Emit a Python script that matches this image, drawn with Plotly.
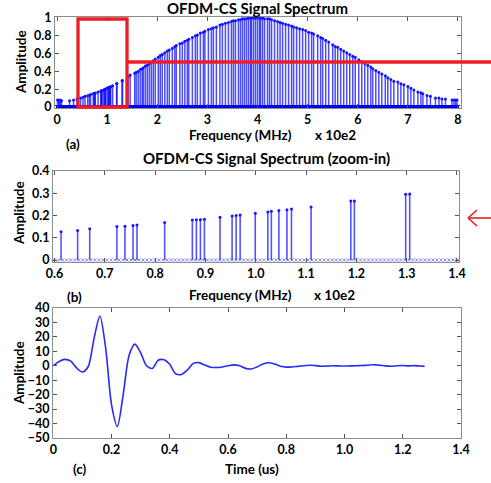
import numpy as np
import plotly.graph_objects as go

# ---------------- data ----------------
# OFDM-CS spectrum: active subcarrier frequencies (x 10e2 MHz) and amplitudes
spec_freq = [0.01, 0.03, 0.05, 0.07, 0.09, 0.25, 0.33, 0.40, 0.47, 0.52, 0.56,
             0.613, 0.646, 0.670, 0.724, 0.740, 0.756, 0.764, 0.819, 0.874, 0.882,
             0.890, 0.898, 0.929, 0.953, 0.961, 0.969, 0.999, 1.024, 1.031, 1.046,
             1.062, 1.071, 1.110, 1.189, 1.196, 1.298, 1.306,
             1.42, 1.46, 1.55, 1.58, 1.62, 1.66, 1.70, 1.72, 1.76, 1.80, 1.84, 1.88,
             1.92, 1.96, 2.02, 2.06, 2.10, 2.15, 2.20, 2.24, 2.30, 2.35, 2.38, 2.45,
             2.50, 2.55, 2.60, 2.63, 2.70, 2.76, 2.80, 2.86, 2.92, 2.95, 3.02, 3.08,
             3.12, 3.18, 3.25, 3.30, 3.36, 3.42, 3.48, 3.52, 3.56, 3.62, 3.66, 3.70,
             3.74, 3.78, 3.82, 3.86, 3.88, 3.92, 3.96, 4.00, 4.04, 4.06, 4.10, 4.14,
             4.20, 4.24, 4.28, 4.34, 4.40, 4.45, 4.50, 4.56, 4.62, 4.68, 4.72, 4.78,
             4.84, 4.90, 4.96, 5.02, 5.08, 5.12, 5.20, 5.26, 5.30, 5.36, 5.42, 5.50,
             5.55, 5.60, 5.66, 5.72, 5.78, 5.84, 5.90, 5.95, 6.02, 6.08, 6.14, 6.20,
             6.26, 6.30, 6.36, 6.42, 6.48, 6.55, 6.60, 6.66, 6.72, 6.80, 6.86, 6.92,
             7.00, 7.06, 7.12, 7.20, 7.26, 7.30, 7.38, 7.45, 7.55, 7.62, 7.68, 7.75,
             7.88, 7.92, 7.95, 7.98]
spec_amp = [0.08, 0.08, 0.07, 0.08, 0.07, 0.07, 0.08, 0.09, 0.10, 0.11, 0.12,
            0.127, 0.133, 0.14, 0.15, 0.152, 0.155, 0.157, 0.168, 0.18, 0.181,
            0.181, 0.183, 0.192, 0.198, 0.20, 0.202, 0.21, 0.216, 0.219, 0.222,
            0.226, 0.229, 0.238, 0.265, 0.265, 0.295, 0.297,
            0.34, 0.36, 0.38, 0.39, 0.40, 0.42, 0.43, 0.44, 0.46, 0.47, 0.49, 0.50,
            0.52, 0.54, 0.56, 0.58, 0.59, 0.61, 0.63, 0.64, 0.66, 0.68, 0.69, 0.71,
            0.72, 0.74, 0.75, 0.76, 0.78, 0.80, 0.81, 0.83, 0.84, 0.85, 0.87, 0.88,
            0.89, 0.90, 0.92, 0.93, 0.94, 0.95, 0.96, 0.97, 0.97, 0.98, 0.98, 0.99,
            0.99, 0.99, 1.00, 1.00, 1.00, 1.00, 1.00, 1.00, 1.00, 1.00, 1.00, 0.99,
            0.99, 0.99, 0.98, 0.97, 0.96, 0.95, 0.94, 0.93, 0.92, 0.91, 0.90, 0.89,
            0.88, 0.87, 0.86, 0.84, 0.83, 0.82, 0.80, 0.78, 0.77, 0.75, 0.73, 0.70,
            0.68, 0.67, 0.65, 0.63, 0.61, 0.59, 0.57, 0.56, 0.53, 0.51, 0.49, 0.47,
            0.45, 0.43, 0.41, 0.39, 0.37, 0.35, 0.33, 0.31, 0.29, 0.28, 0.26, 0.25,
            0.23, 0.21, 0.19, 0.17, 0.16, 0.15, 0.13, 0.12, 0.10, 0.10, 0.09, 0.09,
            0.08, 0.08, 0.08, 0.08]

# inactive subcarrier grid (zero amplitude)
zero_freq = np.round(np.arange(0, 8.0001, 0.008), 3)
zero_amp = np.zeros_like(zero_freq)

# time-domain signal
time_us = np.round(np.arange(0, 1.27, 0.02), 2).tolist() + [1.275]
signal = [0, 3.0, 4.4, 3.2, -1.5, -4.3, -0.5, 19, 34.5, 12, -27, -42, -20, 7, 15, 9,
          0, -1.8, 3.8, 4.2, 1, -5.5, -6.0, -3, 1.5, 2.2, 0.5, -1, -1.2, -0.8, 0, 0.6,
          0, -1.8, -2.2, -0.8, 1.2, 2.1, 1.2, -0.3, -0.9, -0.8, -0.4, 0, 0.4, 0.1,
          -0.3, -0.2, 0, -0.1, -0.2, -0.1, 0, 0.2, 0.4, 0.7, 0.4, -0.1, -0.3, 0,
          0.2, -0.1, 0.1, -0.2, -0.4]

# tick labels
a_xticks = [0, 1, 2, 3, 4, 5, 6, 7, 8]
a_yticks = [0, 0.2, 0.4, 0.6, 0.8, 1]
a_yticktext = ["0", "0.2", "0.4", "0.6", "0.8", "1"]
b_xticks = [0.6, 0.7, 0.8, 0.9, 1.0, 1.1, 1.2, 1.3, 1.4]
b_xticktext = ["0.6", "0.7", "0.8", "0.9", "1.0", "1.1", "1.2", "1.3", "1.4"]
b_yticks = [0, 0.1, 0.2, 0.3, 0.4]
b_yticktext = ["0", "0.1", "0.2", "0.3", "0.4"]
c_xticks = [0, 0.2, 0.4, 0.6, 0.8, 1.0, 1.2, 1.4]
c_xticktext = ["0", "0.2", "0.4", "0.6", "0.8", "1.0", "1.2", "1.4"]
c_yticks = [40, 30, 20, 10, 0, -10, -20, -30, -40, -50]

# ---------------- figure ----------------
W, H = 491, 483
FONT = "Lato"
BLUE = "rgb(20,20,255)"

sx, sy = [], []
for f, a in zip(spec_freq, spec_amp):
    sx += [f, f, None]
    sy += [0, a, None]

fig = go.Figure()
panels = [
    # axes, stem width, stem colour, zero-marker size, zero-marker colour
    ("x", "y", 1.5, "rgba(0,0,255,0.7)", 4, "rgb(0,0,230)"),
    ("x2", "y2", 1.6, "rgba(40,40,255,0.8)", 3, "rgba(80,80,255,0.7)"),
]
for xa, ya, lw, col, zs, zc in panels:
    fig.add_trace(go.Scatter(x=zero_freq, y=zero_amp, mode="markers", xaxis=xa, yaxis=ya,
                             marker=dict(size=zs, color=zc, symbol="x-thin-open",
                                         line=dict(width=1, color=zc)),
                             hoverinfo="skip"))
    fig.add_trace(go.Scatter(x=sx, y=sy, mode="lines", xaxis=xa, yaxis=ya,
                             line=dict(color=col, width=lw), hoverinfo="skip"))
    fig.add_trace(go.Scatter(x=spec_freq, y=spec_amp, mode="markers", xaxis=xa, yaxis=ya,
                             marker=dict(size=3, color=BLUE), hoverinfo="skip"))

fig.add_trace(go.Scatter(x=time_us, y=signal, mode="lines", xaxis="x3", yaxis="y3",
                         line=dict(color="rgb(40,40,255)", width=1.6, shape="spline", smoothing=0.8)))


def px(v):
    return v / W


def py(v):
    return 1 - v / H


tickfont = dict(family=FONT, size=12.5, color="black", weight="bold")
common = dict(showline=True, linecolor="#8c8c8c", linewidth=1, mirror="ticks", ticks="inside",
              ticklen=4, tickcolor="#555", showgrid=False, zeroline=False, tickfont=tickfont,
              fixedrange=True, automargin=False)

fig.update_layout(
    template="none",
    width=W, height=H, margin=dict(l=0, r=0, t=0, b=0, pad=0, autoexpand=False),
    paper_bgcolor="white", plot_bgcolor="white", showlegend=False,
    xaxis=dict(domain=[px(55), px(461)], range=[-0.04, 8.06], tickvals=a_xticks, anchor="y", **common),
    yaxis=dict(domain=[py(108), py(17)], range=[-0.011, 1.011], tickvals=a_yticks, ticktext=a_yticktext,
               anchor="x", **common),
    xaxis2=dict(domain=[px(53), px(459)], range=[0.597, 1.404], tickvals=b_xticks, ticktext=b_xticktext,
                anchor="y2", **common),
    yaxis2=dict(domain=[py(262), py(171)], range=[-0.009, 0.4], tickvals=b_yticks, ticktext=b_yticktext,
                anchor="x2", **common),
    xaxis3=dict(domain=[px(53), px(461)], range=[-0.001, 1.4], tickvals=c_xticks, ticktext=c_xticktext,
                anchor="y3", **common),
    yaxis3=dict(domain=[py(438), py(308)], range=[-50, 40], tickvals=c_yticks, anchor="x3", **common),
)


def ann(text, x, y, size=14, angle=0, weight="bold", xanchor="center"):
    fig.add_annotation(text=text, x=px(x), y=py(y), xref="paper", yref="paper", showarrow=False,
                       xanchor=xanchor, yanchor="middle", textangle=angle,
                       font=dict(family=FONT, size=size, color="black", weight=weight))


ann("OFDM-CS Signal Spectrum", 257, 8, size=15)
ann("Frequency (MHz)", 240, 135, size=13.5)
ann("x 10e2", 335, 135, size=13.5)
ann("(a)", 73, 144, size=13.5)
ann("Amplitude", 21, 62, angle=-90, size=13.5)

ann("OFDM-CS Signal Spectrum (zoom-in)", 266, 158, size=15)
ann("Frequency (MHz)", 240, 295, size=13.5)
ann("x 10e2", 334, 295, size=13.5)
ann("(b)", 74, 297, size=13.5)
ann("Amplitude", 19, 213, angle=-90, size=13.5)

ann("Time (us)", 252, 469, size=13.5)
ann("(c)", 80, 469, size=13.5)
ann("Amplitude", 19, 373, angle=-90, size=13.5)

RED = "#ee1c25"
fig.add_shape(type="rect", xref="paper", yref="paper", x0=px(78), x1=px(127), y0=py(107), y1=py(19),
              line=dict(color=RED, width=3.3))
fig.add_shape(type="line", xref="paper", yref="paper", x0=px(127), x1=1, y0=py(62), y1=py(62),
              line=dict(color=RED, width=3.3))
# small red arrow beside panel (b)
fig.add_shape(type="line", xref="paper", yref="paper", x0=px(468), x1=px(491), y0=py(218), y1=py(218),
              line=dict(color=RED, width=1.6))
fig.add_shape(type="line", xref="paper", yref="paper", x0=px(468), x1=px(477), y0=py(218), y1=py(210),
              line=dict(color=RED, width=1.6))
fig.add_shape(type="line", xref="paper", yref="paper", x0=px(468), x1=px(477), y0=py(218), y1=py(226),
              line=dict(color=RED, width=1.6))

fig.write_html("out.html", config={"displayModeBar": False},
               post_script="document.body.style.margin='0';document.body.style.overflow='hidden';")
